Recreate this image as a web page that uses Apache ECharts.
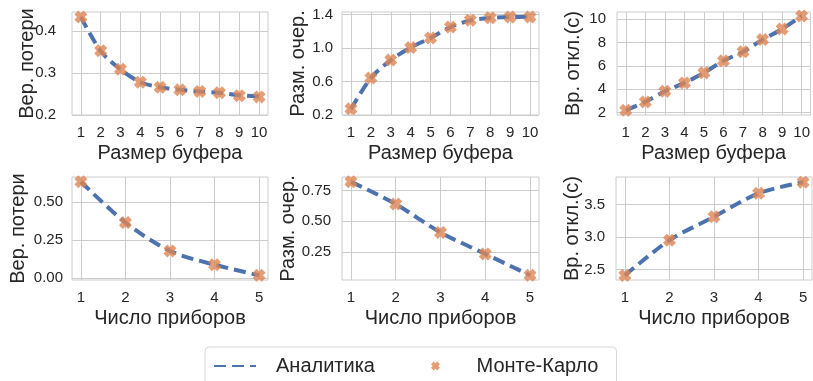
<!DOCTYPE html>
<html>
<head>
<meta charset="utf-8">
<script src="https://cdn.jsdelivr.net/npm/echarts@6/dist/echarts.min.js"></script>
<style>
  html, body { margin: 0; padding: 0; background: #fff; }
  #main { width: 813px; height: 381px; }
</style>
</head>
<body>
<div id="main"></div>
<script>
  var bufferSizes = [1, 2, 3, 4, 5, 6, 7, 8, 9, 10];
  var deviceCounts = [1, 2, 3, 4, 5];

  // Размер буфера
  var lossBufAnalytic = [0.433, 0.352, 0.308, 0.278, 0.266, 0.260, 0.256, 0.253, 0.247, 0.244];
  var lossBufMC = [0.433, 0.353, 0.309, 0.278, 0.266, 0.260, 0.256, 0.253, 0.246, 0.243];
  var queueBufAnalytic = [0.272, 0.640, 0.856, 1.005, 1.120, 1.250, 1.330, 1.360, 1.370, 1.372];
  var queueBufMC = [0.274, 0.642, 0.856, 1.005, 1.120, 1.250, 1.332, 1.360, 1.370, 1.370];
  var waitBufAnalytic = [2.20, 2.92, 3.83, 4.54, 5.40, 6.43, 7.20, 8.24, 9.15, 10.26];
  var waitBufMC = [2.20, 2.92, 3.83, 4.54, 5.40, 6.43, 7.20, 8.24, 9.15, 10.26];

  // Число приборов
  var lossDevAnalytic = [0.634, 0.366, 0.180, 0.089, 0.020];
  var lossDevMC = [0.634, 0.366, 0.180, 0.089, 0.020];
  var queueDevAnalytic = [0.822, 0.640, 0.410, 0.236, 0.062];
  var queueDevMC = [0.822, 0.640, 0.410, 0.236, 0.062];
  var waitDevAnalytic = [2.41, 2.95, 3.31, 3.67, 3.84];
  var waitDevMC = [2.41, 2.95, 3.31, 3.67, 3.84];

  var bufTicks = bufferSizes;
  var devTicks = deviceCounts;
  var lossBufTicks = [0.2, 0.3, 0.4];
  var queueBufTicks = [0.2, 0.6, 1.0, 1.4];
  var waitBufTicks = [2, 4, 6, 8, 10];
  var lossDevTicks = [0.00, 0.25, 0.50];
  var queueDevTicks = [0.25, 0.50, 0.75];
  var waitDevTicks = [2.5, 3.0, 3.5];

  var FONT = '"Liberation Sans", Arial, sans-serif';
  var TXT = '#262626';
  var GRIDC = '#cccccc';
  var LINEC = '#4c72b0';
  var MARKC = '#dd8452';
  // толстый крестик, как маркер "X" в matplotlib
  var XMARK = 'path://M0,3 L3,0 L5,2 L7,0 L10,3 L8,5 L10,7 L7,10 L5,8 L3,10 L0,7 L2,5 Z';

  var panels = [
    {x: bufferSizes, a: lossBufAnalytic, m: lossBufMC, xt: bufTicks, yt: lossBufTicks, xr: [0.55, 10.45], yr: [0.2, 0.445], dec: 1,
      xname: 'Размер буфера', yname: 'Вер. потери', left: 72, top: 12, w: 196, gap: 35, lm: 16},
    {x: bufferSizes, a: queueBufAnalytic, m: queueBufMC, xt: bufTicks, yt: queueBufTicks, xr: [0.55, 10.45], yr: [0.2, 1.43], dec: 1,
      xname: 'Размер буфера', yname: 'Разм. очер.', left: 342, top: 12, w: 197, gap: 34, lm: 9},
    {x: bufferSizes, a: waitBufAnalytic, m: waitBufMC, xt: bufTicks, yt: waitBufTicks, xr: [0.55, 10.45], yr: [1.8, 10.6], dec: 0,
      xname: 'Размер буфера', yname: 'Вр. откл.(с)', left: 617, top: 12, w: 195, gap: 34, lm: 11},
    {x: deviceCounts, a: lossDevAnalytic, m: lossDevMC, xt: devTicks, yt: lossDevTicks, xr: [0.8, 5.2], yr: [-0.011, 0.665], dec: 2,
      xname: 'Число приборов', yname: 'Вер. потери', left: 72, top: 177, w: 196, gap: 44, lm: 9},
    {x: deviceCounts, a: queueDevAnalytic, m: queueDevMC, xt: devTicks, yt: queueDevTicks, xr: [0.8, 5.2], yr: [0.024, 0.86], dec: 2,
      xname: 'Число приборов', yname: 'Разм. очер.', left: 342, top: 177, w: 197, gap: 44, lm: 11},
    {x: deviceCounts, a: waitDevAnalytic, m: waitDevMC, xt: devTicks, yt: waitDevTicks, xr: [0.8, 5.2], yr: [2.34, 3.92], dec: 1,
      xname: 'Число приборов', yname: 'Вр. откл.(с)', left: 616, top: 177, w: 196, gap: 34, lm: 11}
  ];

  var grids = [], xAxes = [], yAxes = [], series = [];

  panels.forEach(function (p, i) {
    grids.push({
      left: p.left, top: p.top, width: p.w, height: 103,
      show: true, borderColor: GRIDC, borderWidth: 1, backgroundColor: '#fff'
    });
    xAxes.push({
      type: 'value', gridIndex: i, min: p.xr[0], max: p.xr[1],
      name: p.xname, nameLocation: 'middle', nameGap: 28, nameMoveOverlap: false,
      nameTextStyle: {fontFamily: FONT, fontSize: 20, color: TXT},
      axisLine: {show: false},
      axisTick: {show: false, customValues: p.xt},
      axisLabel: {customValues: p.xt, margin: 10, fontFamily: FONT, fontSize: 15, color: TXT},
      splitLine: {show: true, lineStyle: {color: GRIDC, width: 1}}
    });
    yAxes.push({
      type: 'value', gridIndex: i, min: p.yr[0], max: p.yr[1],
      name: p.yname, nameLocation: 'middle', nameGap: p.gap, nameRotate: 90, nameMoveOverlap: false,
      nameTextStyle: {fontFamily: FONT, fontSize: 20, color: TXT},
      axisLine: {show: false},
      axisTick: {show: false, customValues: p.yt},
      axisLabel: {
        customValues: p.yt, margin: p.lm, fontFamily: FONT, fontSize: 15, color: TXT,
        formatter: (function (d) { return function (v) { return v.toFixed(d); }; })(p.dec)
      },
      splitLine: {show: true, lineStyle: {color: GRIDC, width: 1}}
    });
    series.push({
      name: 'Аналитика', type: 'line', xAxisIndex: i, yAxisIndex: i,
      data: p.x.map(function (v, k) { return [v, p.a[k]]; }),
      smooth: 0.3, showSymbol: false, symbol: 'none',
      lineStyle: {color: LINEC, width: 4, type: [12, 6]},
      itemStyle: {color: LINEC},
      z: 2, animation: false
    });
    series.push({
      name: 'Монте-Карло', type: 'scatter', xAxisIndex: i, yAxisIndex: i,
      data: p.x.map(function (v, k) { return [v, p.m[k]]; }),
      symbol: XMARK, symbolSize: 13,
      itemStyle: {color: MARKC},
      z: 3, animation: false
    });
  });

  var myChart = echarts.init(document.getElementById('main'));
  myChart.setOption({
    backgroundColor: '#fff',
    animation: false,
    grid: grids,
    xAxis: xAxes,
    yAxis: yAxes,
    series: series,
    legend: {
      left: 205, top: 347,
      padding: [9, 18, 16, 8],
      borderColor: '#d6d6d6', borderWidth: 1, borderRadius: 4,
      itemWidth: 42, itemHeight: 9, itemGap: 56,
      textStyle: {fontFamily: FONT, fontSize: 20, color: TXT, padding: [0, 0, 0, 15]},
      data: [
        {name: 'Аналитика', itemStyle: {opacity: 0}},
        {name: 'Монте-Карло', icon: XMARK}
      ]
    }
  });
</script>
</body>
</html>
